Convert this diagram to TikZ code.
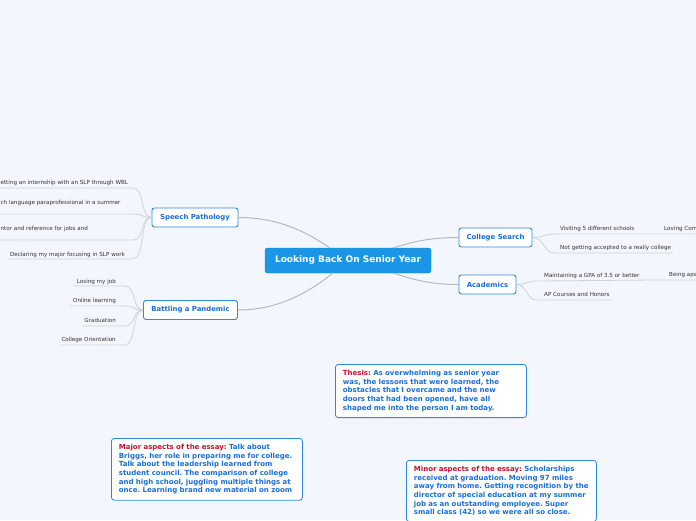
\documentclass[tikz,border=0pt]{standalone}
\usepackage{fontspec}
\setmainfont{DejaVu Sans}
\frenchspacing
\definecolor{bg}{HTML}{F3F6FD}
\definecolor{mainblue}{HTML}{1B96E6}
\definecolor{boxborder}{HTML}{2B8AE6}
\definecolor{boxtext}{HTML}{1A6FD6}
\definecolor{redlab}{HTML}{C8102E}
\definecolor{maincon}{HTML}{B4B8BF}
\definecolor{leafcon}{HTML}{CDD2DB}
\definecolor{leaftext}{HTML}{333333}
\begin{document}
\begin{tikzpicture}[x=1pt,y=-1pt,
  centralbox/.style={draw=mainblue!85!black, line width=0.4pt, fill=mainblue, rounded corners=2.5pt, text=white, font=\fontsize{9}{10}\selectfont\bfseries, minimum width=166pt, minimum height=25pt, inner sep=0pt},
  topicbox/.style={draw=boxborder, line width=0.9pt, fill=white, rounded corners=2.5pt, text=boxtext, font=\fontsize{6.9}{8}\selectfont\bfseries, minimum height=19pt, inner sep=0pt},
  notebox/.style={draw=boxborder, line width=0.8pt, fill=white, rounded corners=3pt, text=boxtext, font=\fontsize{7}{8.6}\selectfont\bfseries, align=left, anchor=north west, inner xsep=7.5pt, inner ysep=6pt},
  leaflab/.style={text=leaftext, font=\fontsize{5.6}{6}\selectfont, anchor=base west, inner sep=0pt},
  maincurve/.style={draw=maincon, line width=1pt},
  leafcurve/.style={draw=leafcon, line width=0.8pt}
]
\fill[bg] (0,0) rectangle (696,520);
\useasboundingbox (0,0) rectangle (696,520);
\begin{scope}
\clip (0,0) rectangle (696,520);

% central
\node[centralbox] (center) at (348,260.5) {Looking Back On Senior Year};

% topic boxes
\node[topicbox, minimum width=86pt] (speech) at (195,217.5) {Speech Pathology};
\node[topicbox, minimum width=94pt] (pandemic) at (190.5,310) {Battling a Pandemic};
\node[topicbox, minimum width=73pt] (college) at (495.5,237.5) {College Search};
\node[topicbox, minimum width=57pt] (academics) at (487.5,284.5) {Academics};

% main connectors
\coordinate (cA) at (330,248);
\coordinate (cB) at (333,273);
\coordinate (cC) at (393,248);
\coordinate (cD) at (393,273);
\draw[maincurve] (speech.east) .. controls +(45,0) and (312,236) .. (cA);
\draw[maincurve] (pandemic.east) .. controls +(45,0) and (314,288) .. (cB);
\draw[maincurve] (college.west) .. controls +(-30,0) and (412,242) .. (cC);
\draw[maincurve] (academics.west) .. controls +(-30,0) and (412,279) .. (cD);

% Speech pathology leaves
\coordinate (s1a) at (0,188);   \coordinate (s1b) at (133,188);
\coordinate (s2a) at (0,214);   \coordinate (s2b) at (133,214);
\coordinate (s3a) at (0,240);   \coordinate (s3b) at (133,240);
\coordinate (s4a) at (7,259);   \coordinate (s4b) at (133,259);
\node[leaflab] (s1) at (0.4,184.5) {etting an internship with an SLP through WBL};
\node[leaflab] (s2) at (0.4,204) {ch language paraprofessional in a summer};
\node[leaflab] (s3) at (0.4,230) {ntor and reference for jobs and};
\node[leaflab, anchor=base east] (s4) at (125,256.5) {Declaring my major focusing in SLP work};
\foreach \i in {1,2,3,4}{
  \draw[leafcurve] (s\i a) -- (s\i b) .. controls +(12,0) and ([xshift=-12pt]speech.west) .. (speech.west);
}

% Pandemic leaves
\coordinate (p1a) at (73,286);  \coordinate (p1b) at (125,286);
\coordinate (p2a) at (70,306);  \coordinate (p2b) at (125,306);
\coordinate (p3a) at (82,326);  \coordinate (p3b) at (125,326);
\coordinate (p4a) at (60,345);  \coordinate (p4b) at (125,345);
\node[leaflab, anchor=base east] (p1) at (116,283.5) {Losing my job};
\node[leaflab, anchor=base east] (p2) at (116,302.5) {Online learning};
\node[leaflab, anchor=base east] (p3) at (116,322.5) {Graduation};
\node[leaflab, anchor=base east] (p4) at (116,341.5) {College Orientation};
\foreach \i in {1,2,3,4}{
  \draw[leafcurve] (p\i a) -- (p\i b) .. controls +(11,0) and ([xshift=-11pt]pandemic.west) .. (pandemic.west);
}

% College search leaves
\coordinate (c1a) at (555,234); \coordinate (c1b) at (696,234);
\coordinate (c2a) at (555,253); \coordinate (c2b) at (673,253);
\node[leaflab] (c1) at (560,230.5) {Visiting 5 different schools};
\node[leaflab] (c1x) at (664,230.5) {Loving Com};
\node[leaflab] (c2) at (560,249.5) {Not getting accepted to a really college};
\draw[leafcurve] (c1b) -- (c1a) .. controls +(-12,0) and ([xshift=12pt]college.east) .. (college.east);
\draw[leafcurve] (c2b) -- (c2a) .. controls +(-12,0) and ([xshift=12pt]college.east) .. (college.east);

% Academics leaves
\coordinate (a1a) at (537,281); \coordinate (a1b) at (696,280);
\coordinate (a2a) at (537,300); \coordinate (a2b) at (613,300);
\node[leaflab] (a1) at (544,277) {Maintaining a GPA of 3.5 or better};
\node[leaflab] (a1x) at (669,276) {Being apa};
\node[leaflab] (a2) at (544,296.5) {AP Courses and Honors};
\draw[leafcurve] (a1b) -- (655,280) -- (a1a) .. controls +(-11,0) and ([xshift=11pt]academics.east) .. (academics.east);
\draw[leafcurve] (a2b) -- (a2a) .. controls +(-11,0) and ([xshift=11pt]academics.east) .. (academics.east);

% note boxes
\node[notebox, text width=176pt] (thesis) at (335,364) {\textcolor{redlab}{Thesis:} As overwhelming as senior year\\was, the lessons that were learned, the\\obstacles that I overcame and the new\\doors that had been opened, have all\\shaped me into the person I am today.};
\node[notebox, text width=176pt] (major) at (111,438) {\textcolor{redlab}{Major aspects of the essay:} Talk about\\Briggs, her role in preparing me for college.\\Talk about the leadership learned from\\student council. The comparison of college\\and high school, juggling multiple things at\\once. Learning brand new material on zoom};
\node[notebox, text width=175pt] (minor) at (406,460) {\textcolor{redlab}{Minor aspects of the essay:} Scholarships\\received at graduation. Moving 97 miles\\away from home. Getting recognition by the\\director of special education at my summer\\job as an outstanding employee. Super\\small class (42) so we were all so close.};
\end{scope}
\end{tikzpicture}
\end{document}
